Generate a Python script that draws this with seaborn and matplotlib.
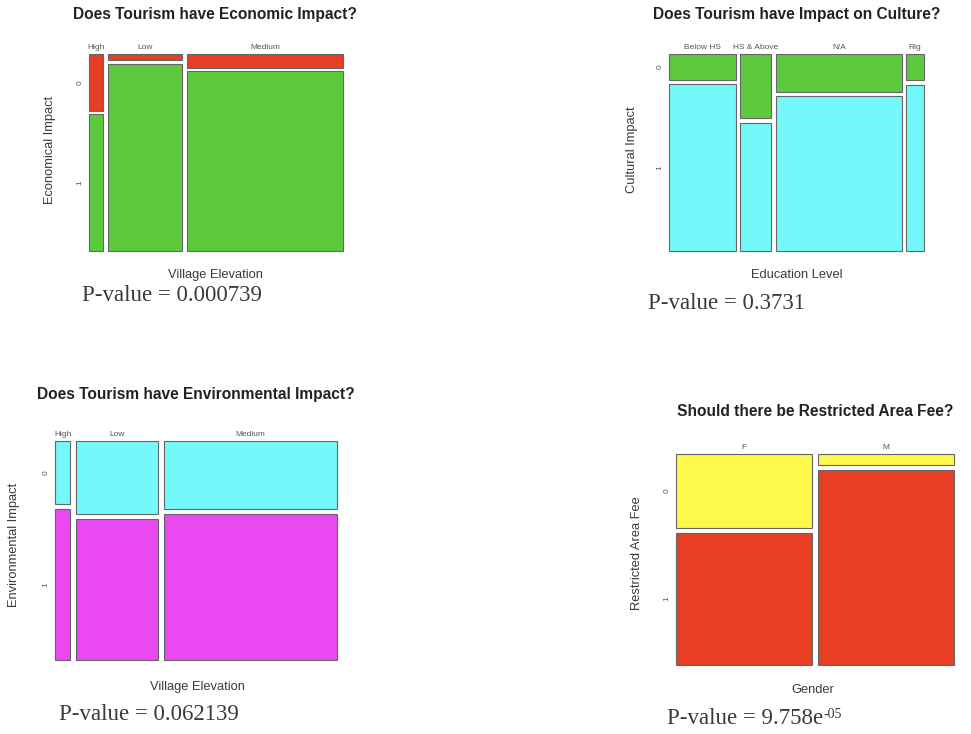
import numpy as np
import matplotlib
matplotlib.use("Agg")
import matplotlib.pyplot as plt
import seaborn as sns

# Economic impact by village elevation (counts: impact 0 / impact 1)
elev_levels = ["High", "Low", "Medium"]
econ_0 = [5, 3, 14]
econ_1 = [12, 88, 178]

# Cultural impact by education level
edu_levels = ["Below HS", "HS & Above", "N/A", "Rlg"]
cult_0 = [11, 13, 31, 3]
cult_1 = [72, 26, 126, 19]

# Environmental impact by village elevation
env_0 = [5, 31, 61]
env_1 = [12, 60, 131]

# Restricted area fee by gender
gender_levels = ["F", "M"]
fee_0 = [54, 8]
fee_1 = [96, 142]

RED = "#E63F26"
GREEN = "#5DCA3E"
CYAN = "#75F8F9"
MAGENTA = "#EA48F1"
YELLOW = "#FCF94C"
EDGE = "#666666"
TXT = "#3a3a3a"

W, H = 971, 734


def px_axes(fig, x, y, w, h):
    return fig.add_axes([x / W, 1 - (y + h) / H, w / W, h / H])


def px_text(fig, x, y, s, ha="center", **kw):
    return fig.text(x / W, 1 - y / H, s, ha=ha, va="center", **kw)


def mosaic(ax, levels, top, bottom, c_top, c_bottom, gap_x, gap_y):
    top = np.array(top, dtype=float)
    bottom = np.array(bottom, dtype=float)
    totals = top + bottom
    widths = totals / totals.sum() * (1 - gap_x * (len(levels) - 1))
    lefts = np.concatenate([[0], np.cumsum(widths + gap_x)[:-1]])
    h0 = top / totals * (1 - gap_y)
    ax.bar(lefts, h0, width=widths, bottom=0, align="edge", color=c_top,
           edgecolor=EDGE, linewidth=0.8, clip_on=False)
    ax.bar(lefts, 1 - gap_y - h0, width=widths, bottom=h0 + gap_y, align="edge",
           color=c_bottom, edgecolor=EDGE, linewidth=0.8, clip_on=False)
    ax.set_xlim(0, 1)
    ax.set_ylim(1, 0)
    ax.xaxis.tick_top()
    ax.set_xticks(lefts + widths / 2, levels)
    ax.set_yticks([h0[0] / 2, h0[0] + gap_y + (1 - gap_y - h0[0]) / 2], ["0", "1"])
    for lab in ax.get_yticklabels():
        lab.set_rotation(90)
        lab.set_va("center")
    ax.tick_params(length=0, labelsize=6, colors="#555555")
    ax.tick_params(axis="x", pad=2)
    ax.tick_params(axis="y", pad=4)
    sns.despine(ax=ax, left=True, bottom=True)


def main():
    sns.set_style("white")
    plt.rcParams["font.family"] = ["Liberation Sans", "DejaVu Sans"]
    fig = plt.figure(figsize=(W / 100, H / 100), dpi=100)

    title_kw = dict(fontsize=11.2, fontweight="bold", color="#222222")
    lab_kw = dict(fontsize=9.3, color=TXT)
    serif = ["Liberation Serif", "DejaVu Serif"]
    p_kw = dict(fontsize=16.5, color=TXT, family=serif)

    # panel 1
    ax1 = px_axes(fig, 89, 54, 254, 197)
    mosaic(ax1, elev_levels, econ_0, econ_1, RED, GREEN, 0.02, 0.017)
    px_text(fig, 215, 15, "Does Tourism have Economic Impact?", **title_kw)
    px_text(fig, 50, 150, "Economical Impact", rotation=90, **lab_kw)
    px_text(fig, 215, 275, "Village Elevation", **lab_kw)
    px_text(fig, 172, 296, "P-value = 0.000739", **p_kw)

    # panel 2
    ax2 = px_axes(fig, 669, 54, 255, 197)
    mosaic(ax2, edu_levels, cult_0, cult_1, GREEN, CYAN, 0.0165, 0.022)
    px_text(fig, 797, 15, "Does Tourism have Impact on Culture?", **title_kw)
    px_text(fig, 632, 150, "Cultural Impact", rotation=90, **lab_kw)
    px_text(fig, 797, 275, "Education Level", **lab_kw)
    px_text(fig, 727, 303, "P-value = 0.3731", **p_kw)

    # panel 3
    ax3 = px_axes(fig, 55, 441, 282, 219)
    mosaic(ax3, elev_levels, env_0, env_1, CYAN, MAGENTA, 0.021, 0.022)
    px_text(fig, 196, 395, "Does Tourism have Environmental Impact?", **title_kw)
    px_text(fig, 14, 545, "Environmental Impact", rotation=90, **lab_kw)
    px_text(fig, 197, 687, "Village Elevation", **lab_kw)
    px_text(fig, 149, 714, "P-value = 0.062139", **p_kw)

    # panel 4
    ax4 = px_axes(fig, 676, 454, 278, 211)
    mosaic(ax4, gender_levels, fee_0, fee_1, YELLOW, RED, 0.018, 0.024)
    px_text(fig, 815, 412, "Should there be Restricted Area Fee?", **title_kw)
    px_text(fig, 637, 553, "Restricted Area Fee", rotation=90, **lab_kw)
    px_text(fig, 813, 690, "Gender", **lab_kw)
    p4 = px_text(fig, 667, 718, "P-value = 9.758e", ha="left", **p_kw)
    # superscript exponent, placed right after the main text
    fig.add_artist(plt.Annotation("-05", xy=(1.0, 0.98), xycoords=p4, ha="left",
                                  va="top", fontsize=10, color=TXT, family=serif))

    fig.savefig("out.png", dpi=100)
    plt.close(fig)


if __name__ == "__main__":
    main()
